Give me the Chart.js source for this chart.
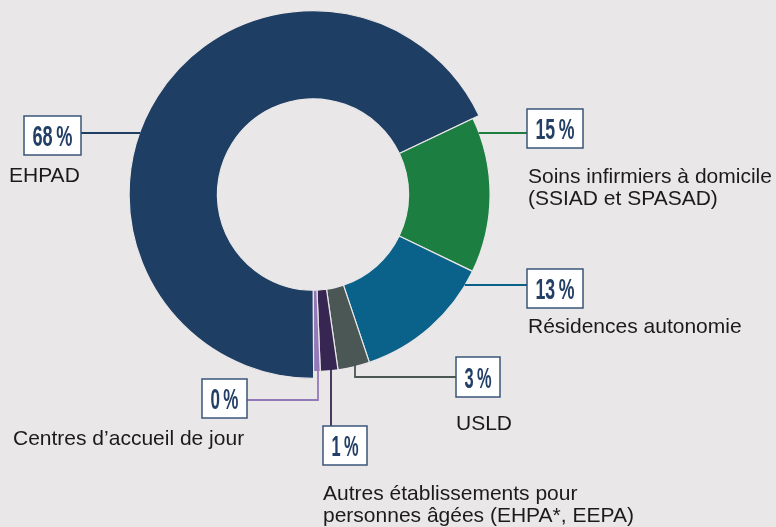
<!DOCTYPE html>
<html lang="fr">
<head>
<meta charset="utf-8">
<title>Répartition des places</title>
<script src="https://cdn.jsdelivr.net/npm/chart.js@4.4.1/dist/chart.umd.min.js"></script>
<style>
  html, body { margin: 0; padding: 0; background: #e9e7e8; }
  #wrap { width: 776px; height: 527px; }
</style>
</head>
<body>
<div id="wrap"><canvas id="donut" width="776" height="527"></canvas></div>
<script>
// -----------------------------
// DATA
// -----------------------------
const categories = [
    ['EHPAD'],
    ['Soins infirmiers à domicile', '(SSIAD et SPASAD)'],
    ['Résidences autonomie'],
    ['USLD'],
    ['Autres établissements pour', 'personnes âgées (EHPA*, EEPA)'],
    ['Centres d\u2019accueil de jour']
];
const shares = [68.0, 14.2, 12.7, 2.9, 1.6, 0.6];
const pctLabels = ['68\u2009%', '15\u2009%', '13\u2009%', '3\u2009%', '1\u2009%', '0\u2009%'];

// -----------------------------
// STYLE / LAYOUT
// -----------------------------
const BG = '#e9e7e8';
const sliceColors = ['#1f3e63', '#1c7e41', '#0a618a', '#4a5754', '#372552', '#9479b8'];
const radiusFactor = [1, 0.963, 0.963, 0.963, 0.963, 0.963];

// box: [x, y, w, h]; text anchor + baseline; leader shape
const callouts = [
    { box: [24, 116, 57, 39], tx: 9,   ty: 182, lead: { type: 'h', side: -1, y: 133 } },
    { box: [527, 109, 56, 39], tx: 528, ty: 183, lead: { type: 'h', side: 1, y: 133 } },
    { box: [527, 269, 56, 39], tx: 528, ty: 333, lead: { type: 'h', side: 1, y: 285 } },
    { box: [456, 357, 44, 40], tx: 456, ty: 430, lead: { type: 'vh', x: 355, y: 377 } },
    { box: [323, 426, 44, 39], tx: 323, ty: 500, lead: { type: 'v', x: 331 } },
    { box: [202, 379, 45, 39], tx: 13,  ty: 445, lead: { type: 'hv', x: 318, y: 400 } }
];

// shrink the outer edge of the smaller slices
const radiusPlugin = {
    id: 'radiusPlugin',
    afterDatasetsUpdate(chart) {
        const meta = chart.getDatasetMeta(0);
        meta.data.forEach((el, i) => {
            el.outerRadius = el.outerRadius * radiusFactor[i];
        });
    }
};

// boxes, leader lines and category texts
const calloutPlugin = {
    id: 'calloutPlugin',
    afterDatasetsDraw(chart) {
        const ctx = chart.ctx;
        const meta = chart.getDatasetMeta(0);
        ctx.save();
        callouts.forEach((c, i) => {
            const el = meta.data[i];
            const cx = el.x, cy = el.y, R = el.outerRadius - 0.5;
            const [bx, by, bw, bh] = c.box;
            const L = c.lead;

            // leader
            ctx.strokeStyle = sliceColors[i];
            ctx.lineWidth = 1.8;
            ctx.beginPath();
            if (L.type === 'h') {
                const ex = cx + L.side * Math.sqrt(R * R - (L.y - cy) * (L.y - cy));
                const bxEdge = L.side < 0 ? bx + bw : bx;
                ctx.moveTo(ex, L.y);
                ctx.lineTo(bxEdge, L.y);
            } else if (L.type === 'vh') {
                const ey = cy + Math.sqrt(R * R - (L.x - cx) * (L.x - cx));
                ctx.moveTo(L.x, ey - 2);
                ctx.lineTo(L.x, L.y);
                ctx.lineTo(bx, L.y);
            } else if (L.type === 'v') {
                const ey = cy + Math.sqrt(R * R - (L.x - cx) * (L.x - cx));
                ctx.moveTo(L.x, ey - 2);
                ctx.lineTo(L.x, by);
            } else if (L.type === 'hv') {
                const ey = cy + Math.sqrt(R * R - (L.x - cx) * (L.x - cx));
                ctx.moveTo(L.x, ey - 2);
                ctx.lineTo(L.x, L.y);
                ctx.lineTo(bx + bw, L.y);
            }
            ctx.stroke();

            // box
            ctx.fillStyle = '#ffffff';
            ctx.fillRect(bx, by, bw, bh);
            ctx.strokeStyle = '#3a5578';
            ctx.lineWidth = 1.5;
            ctx.strokeRect(bx, by, bw, bh);

            // percentage (condensed look)
            ctx.font = "bold 29px 'Liberation Sans Narrow', 'Liberation Sans', Arial, sans-serif";
            ctx.fillStyle = '#233f66';
            ctx.textAlign = 'center';
            ctx.textBaseline = 'alphabetic';
            const target = bw - 17;
            const w = ctx.measureText(pctLabels[i]).width;
            const sx = target / w;
            ctx.save();
            ctx.translate(bx + bw / 2, by + bh / 2 + 10.5);
            ctx.scale(sx, 1);
            ctx.fillText(pctLabels[i], 0, 0);
            ctx.restore();

            // category text
            ctx.font = "21px 'Liberation Sans', Arial, sans-serif";
            ctx.fillStyle = '#1b1b1b';
            ctx.textAlign = 'left';
            categories[i].forEach((line, k) => {
                ctx.fillText(line, c.tx, c.ty + k * 22);
            });
        });
        ctx.restore();
    }
};

// -----------------------------
// RENDER DONUT
// -----------------------------
function renderDonut() {
    const canvas = document.getElementById('donut');
    new Chart(canvas, {
        type: 'doughnut',
        data: {
            labels: categories.map(c => c.join(' ')),
            datasets: [{
                data: shares,
                backgroundColor: sliceColors,
                borderColor: BG,
                borderWidth: 1.2
            }]
        },
        options: {
            responsive: false,
            animation: false,
            devicePixelRatio: 1,
            cutout: '52%',
            rotation: 179.8,
            layout: { padding: { left: 128, right: 278, top: 10, bottom: 148 } },
            plugins: {
                legend: { display: false },
                tooltip: { enabled: false }
            }
        },
        plugins: [radiusPlugin, calloutPlugin]
    });
}

document.addEventListener('DOMContentLoaded', renderDonut);
</script>
</body>
</html>
